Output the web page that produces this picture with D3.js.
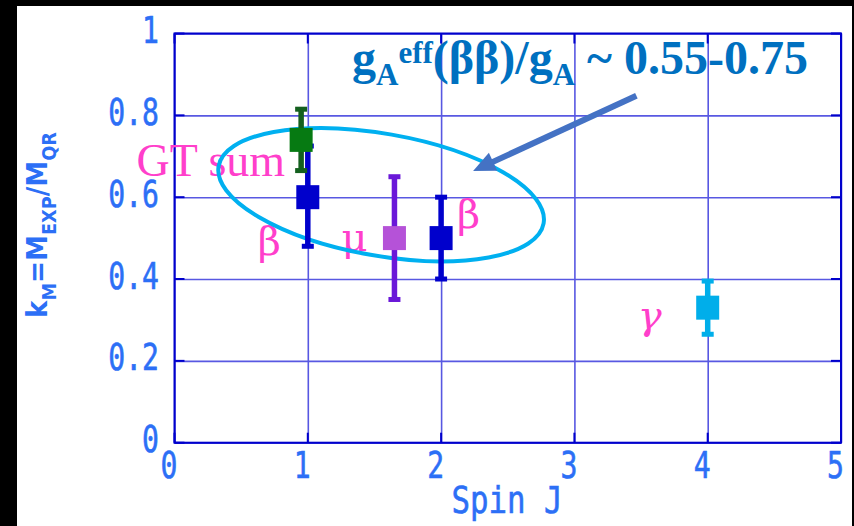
<!DOCTYPE html>
<html>
<head>
<meta charset="utf-8">
<script src="https://cdn.jsdelivr.net/npm/d3@7"></script>
<style>
  html, body { margin: 0; padding: 0; background: #000; }
  svg { display: block; }
  text { white-space: pre; }
</style>
</head>
<body>
<svg id="chart" width="854" height="526"></svg>
<script>
// Quenching factor k_M versus multipole spin J
const probeLabels = ["β", "GT sum", "μ", "β", "γ"];
const spinValues  = [1, 0.95, 1.65, 2, 4];
const kValues     = [0.60, 0.74, 0.50, 0.50, 0.33];
const kLow        = [0.48, 0.665, 0.35, 0.40, 0.265];
const kHigh       = [0.725, 0.815, 0.65, 0.60, 0.395];
const xTickValues = [0, 1, 2, 3, 4, 5];
const yTickValues = [0, 0.2, 0.4, 0.6, 0.8, 1];

// Marker and label styling, one entry per point
const markStyle = [
  { fill: "#0000cc", bar: "#0000cc", ldx: -27, ldy: 58, anchor: "end", italic: false },
  { fill: "#067a12", bar: "#14601e", ldx: -16, ldy: 36, anchor: "end", italic: false },
  { fill: "#b552d8", bar: "#6a18d8", ldx: -27, ldy: 13, anchor: "end", italic: false },
  { fill: "#0000cc", bar: "#0000cc", ldx: 16, ldy: -10, anchor: "start", italic: false },
  { fill: "#00aeea", bar: "#00aeea", ldx: -46, ldy: 21, anchor: "end", italic: true }
];

const svg = d3.select("#chart");
const W = 854, H = 526;
const plot = { left: 174.5, right: 841, top: 33.5, bottom: 442.7 };

// Page frame: black edges, white sheet
svg.append("rect").attr("width", W).attr("height", H).attr("fill", "#000");
svg.append("rect").attr("x", 17).attr("y", 6).attr("width", 835).attr("height", H - 6).attr("fill", "#fff");

const x = d3.scaleLinear().domain([0, 5]).range([plot.left, plot.right]);
const y = d3.scaleLinear().domain([0, 1]).range([plot.bottom, plot.top]);
const pw = plot.right - plot.left, ph = plot.bottom - plot.top;

// Grid
const gridColor = "#5858e2";
svg.append("g")
  .attr("transform", `translate(0,${plot.bottom})`)
  .call(d3.axisBottom(x).tickValues(xTickValues).tickSize(-ph).tickFormat(""))
  .call(g => g.select(".domain").remove())
  .call(g => g.selectAll("line").attr("stroke", gridColor).attr("stroke-width", 1.6));
svg.append("g")
  .attr("transform", `translate(${plot.left},0)`)
  .call(d3.axisLeft(y).tickValues(yTickValues).tickSize(-pw).tickFormat(""))
  .call(g => g.select(".domain").remove())
  .call(g => g.selectAll("line").attr("stroke", gridColor).attr("stroke-width", 1.6));

// Inward ticks on all four sides
const frameColor = "#0000cc";
const tickLen = 10;
[[plot.bottom, -tickLen], [plot.top, tickLen]].forEach(([yy, len]) => {
  svg.append("g").selectAll("line").data(xTickValues).join("line")
    .attr("x1", d => x(d)).attr("x2", d => x(d))
    .attr("y1", yy).attr("y2", yy + len)
    .attr("stroke", frameColor).attr("stroke-width", 2);
});
[[plot.left, tickLen], [plot.right, -tickLen]].forEach(([xx, len]) => {
  svg.append("g").selectAll("line").data(yTickValues).join("line")
    .attr("y1", d => y(d)).attr("y2", d => y(d))
    .attr("x1", xx).attr("x2", xx + len)
    .attr("stroke", frameColor).attr("stroke-width", 2);
});
svg.append("rect")
  .attr("x", plot.left).attr("y", plot.top).attr("width", pw).attr("height", ph)
  .attr("fill", "none").attr("stroke", frameColor).attr("stroke-width", 2);

// Tick labels (narrow monospaced digits)
const tickFont = "'DejaVu Sans Mono', monospace";
const tickColor = "#2c6ff6";
const tickFmt = d3.format("~g");
svg.append("g").selectAll("text").data(yTickValues).join("text")
  .attr("transform", d => `translate(159,${y(d) + 9.5}) scale(0.76,1)`)
  .attr("text-anchor", "end")
  .attr("font-family", tickFont).attr("font-size", 37).attr("fill", tickColor)
  .attr("stroke", tickColor).attr("stroke-width", 0.6)
  .text(d => tickFmt(d));
svg.append("g").selectAll("text").data(xTickValues).join("text")
  .attr("transform", d => `translate(${x(d) - 5.5},${plot.bottom + 35.5}) scale(0.76,1)`)
  .attr("text-anchor", "middle")
  .attr("font-family", tickFont).attr("font-size", 37).attr("fill", tickColor)
  .attr("stroke", tickColor).attr("stroke-width", 0.6)
  .text(d => tickFmt(d));

// Axis titles
svg.append("text")
  .attr("transform", "translate(507,513) scale(0.81,1)")
  .attr("text-anchor", "middle")
  .attr("font-family", tickFont).attr("font-size", 38).attr("fill", tickColor)
  .attr("stroke", tickColor).attr("stroke-width", 0.6)
  .text("Spin J");

const yTitle = svg.append("text")
  .attr("text-anchor", "middle")
  .attr("font-family", "'DejaVu Sans', sans-serif").attr("font-weight", "bold")
  .attr("fill", tickColor);
[["k", 28, 0], ["M", 19, 9], ["=M", 28, -9], ["EXP", 19, 9], ["/M", 28, -9], ["QR", 19, 9]]
  .forEach(([t, fs, dy]) => yTitle.append("tspan").attr("font-size", fs).attr("dy", dy).text(t));
const yTitleLen = yTitle.node().getComputedTextLength();
yTitle.attr("transform", `translate(47,225) rotate(-90) scale(${186 / yTitleLen},1)`);

// Point labels
const labelFont = "'Liberation Serif', 'Times New Roman', serif";
const greekFont = "'DejaVu Serif', serif";
svg.append("g").selectAll("text").data(probeLabels).join("text")
  .attr("x", (d, i) => x(spinValues[i]) + markStyle[i].ldx)
  .attr("y", (d, i) => y(kValues[i]) + markStyle[i].ldy)
  .attr("text-anchor", (d, i) => markStyle[i].anchor)
  .attr("font-family", d => d.length > 1 ? labelFont : greekFont)
  .attr("font-style", (d, i) => markStyle[i].italic ? "italic" : "normal")
  .attr("font-size", d => d.length > 1 ? 46 : 40)
  .attr("fill", "#ff3fcb")
  .text(d => d);

// Grouping ellipse around the beta-decay region
const ellipseCenter = [1.55, 0.606];
svg.append("ellipse")
  .attr("transform", `translate(${x(ellipseCenter[0])},${y(ellipseCenter[1])}) rotate(10)`)
  .attr("rx", 165).attr("ry", 61)
  .attr("fill", "none").attr("stroke", "#00b0f0").attr("stroke-width", 4);

// Error bars and markers
const pts = spinValues.map((s, i) => ({ s, k: kValues[i], lo: kLow[i], hi: kHigh[i], st: markStyle[i] }));
const marks = svg.append("g");
pts.forEach(p => {
  const g = marks.append("g");
  const cx = x(p.s);
  g.append("line")
    .attr("x1", cx).attr("x2", cx).attr("y1", y(p.lo)).attr("y2", y(p.hi))
    .attr("stroke", p.st.bar).attr("stroke-width", 5.5);
  [p.lo, p.hi].forEach(v => g.append("rect")
    .attr("x", cx - 6).attr("y", y(v) - 2.5).attr("width", 12).attr("height", 5)
    .attr("fill", p.st.bar));
  g.append("rect")
    .attr("x", cx - 11.5).attr("y", y(p.k) - 12).attr("width", 23).attr("height", 24)
    .attr("fill", p.st.fill);
});

// Arrow pointing at the ellipse
const arrowFrom = [3.465, 0.848], arrowTo = [2.24, 0.664];
const ax0 = x(arrowFrom[0]), ay0 = y(arrowFrom[1]);
const ax1 = x(arrowTo[0]), ay1 = y(arrowTo[1]);
const ang = Math.atan2(ay1 - ay0, ax1 - ax0);
const headLen = 22, headHalf = 10;
const bx = ax1 - headLen * Math.cos(ang), by = ay1 - headLen * Math.sin(ang);
svg.append("line")
  .attr("x1", ax0).attr("y1", ay0).attr("x2", bx + 2 * Math.cos(ang)).attr("y2", by + 2 * Math.sin(ang))
  .attr("stroke", "#4472c4").attr("stroke-width", 6);
svg.append("path")
  .attr("d", d3.line()([
    [ax1, ay1],
    [bx + headHalf * Math.sin(ang), by - headHalf * Math.cos(ang)],
    [bx - headHalf * Math.sin(ang), by + headHalf * Math.cos(ang)]
  ]) + "Z")
  .attr("fill", "#4472c4");

// Headline annotation
const title = svg.append("text")
  .attr("x", 352).attr("y", 74)
  .attr("font-family", labelFont).attr("font-weight", "bold").attr("fill", "#0070c0");
[["g", 48, 0], ["A", 31, 11], ["eff", 31, -22], ["(ββ)/g", 48, 11], ["A", 31, 11], [" ~ 0.55-0.75", 48, -11]]
  .forEach(([t, fs, dy]) => title.append("tspan").attr("font-size", fs).attr("dy", dy).text(t));
</script>
</body>
</html>
